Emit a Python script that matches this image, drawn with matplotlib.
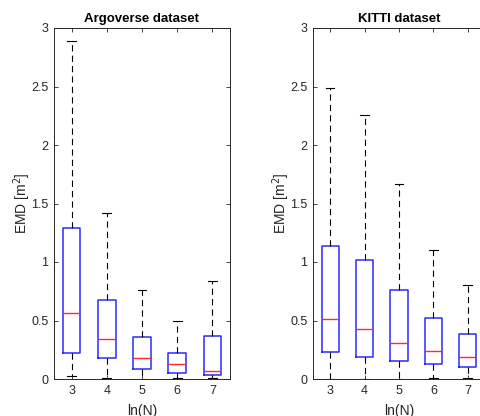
import matplotlib
matplotlib.use('Agg')
import matplotlib.pyplot as plt

plt.rcParams['font.family'] = ['Liberation Sans', 'DejaVu Sans']
plt.rcParams['lines.scale_dashes'] = False

positions = [3, 4, 5, 6, 7]
tick_labels = ['3', '4', '5', '6', '7']

# Argoverse dataset
argo_lo = [0.022, 0.008, 0.0, 0.008, 0.005]
argo_q1 = [0.222, 0.179, 0.082, 0.048, 0.034]
argo_med = [0.564, 0.342, 0.179, 0.125, 0.068]
argo_q3 = [1.29, 0.677, 0.359, 0.225, 0.364]
argo_hi = [2.885, 1.418, 0.763, 0.495, 0.84]

# KITTI dataset
kitti_lo = [0.0, 0.0, 0.0, 0.01, 0.01]
kitti_q1 = [0.233, 0.19, 0.154, 0.131, 0.099]
kitti_med = [0.509, 0.427, 0.307, 0.242, 0.184]
kitti_q3 = [1.138, 1.016, 0.76, 0.523, 0.387]
kitti_hi = [2.485, 2.257, 1.668, 1.104, 0.805]

axcol = '#262626'

fig = plt.figure(figsize=(4.81, 4.16), dpi=100)
W, H = 481.0, 416.0
ax1 = fig.add_axes([54 / W, 1 - 379 / H, 176 / W, 351 / H])
ax2 = fig.add_axes([313 / W, 1 - 379 / H, 172 / W, 351 / H])


def draw(ax, lo, q1, med, q3, hi, title):
    stats = []
    for i in range(len(positions)):
        stats.append({'whislo': lo[i], 'q1': q1[i], 'med': med[i],
                      'q3': q3[i], 'whishi': hi[i], 'fliers': []})
    ax.bxp(stats, positions=positions, widths=0.5, showfliers=False,
           boxprops=dict(color='#2a2aff', linewidth=1.1),
           medianprops=dict(color='#ff2a2a', linewidth=1.0),
           whiskerprops=dict(color='black', linewidth=0.8,
                             linestyle=(0, (4.5, 3))),
           capprops=dict(color='black', linewidth=0.8),
           capwidths=0.25)
    ax.set_xlim(2.5, 7.5)
    ax.set_ylim(0, 3)
    ax.set_xticks(positions)
    ax.set_xticklabels(tick_labels)
    ax.set_yticks([0, 0.5, 1, 1.5, 2, 2.5, 3])
    ax.set_yticklabels(['0', '0.5', '1', '1.5', '2', '2.5', '3'])
    ax.tick_params(direction='in', length=3, width=0.6, colors=axcol,
                   labelsize=9, top=True, right=True, pad=4)
    for s in ax.spines.values():
        s.set_color(axcol)
        s.set_linewidth(0.7)
    ax.set_title(title, fontsize=9.5, fontweight='bold', color='black', pad=4)
    ax.set_xlabel('ln(N)', fontsize=10, color=axcol, labelpad=5)
    ax.set_ylabel('EMD [m$^2$]', fontsize=10, color=axcol, labelpad=-1)


draw(ax1, argo_lo, argo_q1, argo_med, argo_q3, argo_hi, 'Argoverse dataset')
draw(ax2, kitti_lo, kitti_q1, kitti_med, kitti_q3, kitti_hi, 'KITTI dataset')

fig.savefig('out.png', dpi=100)
